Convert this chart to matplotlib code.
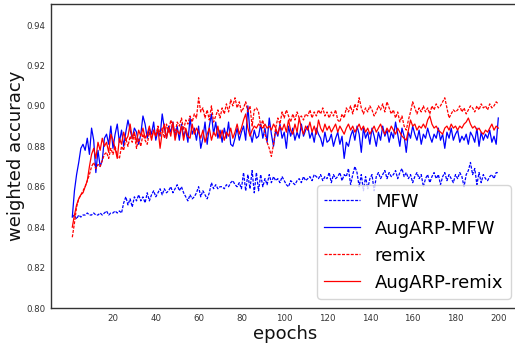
import numpy as np
import matplotlib
matplotlib.use("Agg")
import matplotlib.pyplot as plt

# ==========================================================
# DATA
# ==========================================================

epochs = np.arange(1, 201)

mfw = [
    0.845, 0.846, 0.844, 0.846, 0.845, 0.846, 0.846, 0.847, 0.846, 0.846,
    0.847, 0.846, 0.846, 0.847, 0.846, 0.847, 0.848, 0.846, 0.847, 0.847,
    0.848, 0.847, 0.848, 0.847, 0.852, 0.855, 0.851, 0.854, 0.850, 0.855,
    0.853, 0.856, 0.853, 0.855, 0.852, 0.857, 0.853, 0.856, 0.858, 0.855,
    0.857, 0.859, 0.856, 0.859, 0.857, 0.858, 0.860, 0.857, 0.859, 0.861,
    0.858, 0.860, 0.857, 0.855, 0.853, 0.856, 0.854, 0.855, 0.857, 0.860,
    0.855, 0.858, 0.856, 0.854, 0.857, 0.862, 0.859, 0.861, 0.859, 0.860,
    0.860, 0.859, 0.861, 0.860, 0.862, 0.863, 0.861, 0.860, 0.862, 0.859,
    0.867, 0.858, 0.866, 0.859, 0.868, 0.857, 0.867, 0.858, 0.866, 0.860,
    0.864, 0.861, 0.866, 0.862, 0.865, 0.863, 0.864, 0.862, 0.865, 0.863,
    0.861, 0.860, 0.863, 0.862, 0.861, 0.863, 0.864, 0.862, 0.865, 0.863,
    0.864, 0.865, 0.863, 0.866, 0.865, 0.864, 0.866, 0.863, 0.865, 0.864,
    0.867, 0.862, 0.866, 0.864, 0.865, 0.867, 0.863, 0.866, 0.865, 0.869,
    0.861, 0.866, 0.870, 0.867, 0.860, 0.866, 0.858, 0.865, 0.859, 0.864,
    0.866, 0.858, 0.865, 0.867, 0.864, 0.866, 0.868, 0.864, 0.867, 0.865,
    0.866, 0.868, 0.864, 0.867, 0.869, 0.865, 0.867, 0.864, 0.866, 0.862,
    0.865, 0.867, 0.864, 0.866, 0.860, 0.864, 0.866, 0.862, 0.865, 0.867,
    0.864, 0.866, 0.861, 0.865, 0.867, 0.863, 0.866, 0.864, 0.862, 0.866,
    0.864, 0.867, 0.865, 0.860, 0.866, 0.868, 0.872, 0.866, 0.869, 0.861,
    0.867, 0.862, 0.866, 0.864, 0.863, 0.865, 0.866, 0.864, 0.867, 0.867,
]

aug_mfw = [
    0.845, 0.858, 0.866, 0.872, 0.879, 0.881, 0.878, 0.884, 0.876, 0.889,
    0.883, 0.867, 0.878, 0.870, 0.873, 0.884, 0.886, 0.881, 0.890, 0.879,
    0.886, 0.891, 0.882, 0.888, 0.880, 0.887, 0.893, 0.888, 0.884, 0.889,
    0.887, 0.881, 0.886, 0.895, 0.891, 0.884, 0.889, 0.886, 0.892, 0.883,
    0.888, 0.885, 0.896, 0.889, 0.884, 0.890, 0.887, 0.892, 0.885, 0.890,
    0.883, 0.891, 0.885, 0.888, 0.882, 0.894, 0.886, 0.889, 0.883, 0.890,
    0.879, 0.884, 0.892, 0.881, 0.890, 0.896, 0.886, 0.892, 0.884, 0.888,
    0.882, 0.889, 0.884, 0.892, 0.881, 0.880, 0.884, 0.889, 0.883, 0.887,
    0.890, 0.883, 0.900, 0.887, 0.882, 0.888, 0.884, 0.885, 0.891, 0.884,
    0.889, 0.882, 0.894, 0.886, 0.880, 0.888, 0.885, 0.891, 0.884, 0.887,
    0.879, 0.890, 0.885, 0.889, 0.883, 0.887, 0.884, 0.891, 0.885, 0.888,
    0.890, 0.884, 0.887, 0.882, 0.889, 0.886, 0.884, 0.880, 0.887, 0.882,
    0.883, 0.886, 0.880, 0.884, 0.887, 0.881, 0.885, 0.874, 0.882, 0.880,
    0.885, 0.888, 0.883, 0.890, 0.886, 0.877, 0.889, 0.884, 0.887, 0.881,
    0.889, 0.885, 0.880, 0.887, 0.883, 0.890, 0.885, 0.888, 0.882, 0.887,
    0.884, 0.892, 0.886, 0.880, 0.889, 0.885, 0.877, 0.887, 0.884, 0.890,
    0.886, 0.883, 0.888, 0.881, 0.886, 0.884, 0.889, 0.885, 0.882, 0.886,
    0.884, 0.889, 0.883, 0.886, 0.879, 0.887, 0.884, 0.889, 0.883, 0.886,
    0.888, 0.882, 0.885, 0.883, 0.886, 0.881, 0.887, 0.885, 0.882, 0.889,
    0.880, 0.887, 0.883, 0.886, 0.884, 0.888, 0.882, 0.885, 0.881, 0.894,
]

remix = [
    0.835, 0.842, 0.850, 0.854, 0.856, 0.858, 0.860, 0.863, 0.866, 0.870,
    0.872, 0.869, 0.871, 0.870, 0.873, 0.876, 0.877, 0.874, 0.879, 0.876,
    0.880, 0.875, 0.874, 0.880, 0.878, 0.884, 0.880, 0.885, 0.882, 0.886,
    0.879, 0.884, 0.880, 0.886, 0.883, 0.881, 0.887, 0.884, 0.888, 0.885,
    0.890, 0.886, 0.889, 0.884, 0.891, 0.887, 0.893, 0.889, 0.886, 0.892,
    0.890, 0.894, 0.888, 0.893, 0.891, 0.895, 0.892, 0.896, 0.894, 0.904,
    0.897, 0.899, 0.894, 0.898, 0.893, 0.900, 0.892, 0.895, 0.898, 0.894,
    0.899, 0.896, 0.901, 0.897, 0.903, 0.900, 0.904, 0.899, 0.902, 0.897,
    0.899, 0.902, 0.897, 0.900, 0.890, 0.898, 0.899, 0.897, 0.890, 0.893,
    0.886, 0.882, 0.879, 0.875, 0.881, 0.889, 0.894, 0.891, 0.897, 0.894,
    0.898, 0.895, 0.892, 0.896, 0.893, 0.897, 0.894, 0.895, 0.893, 0.896,
    0.895, 0.898, 0.894, 0.897, 0.895, 0.898, 0.896, 0.899, 0.895, 0.897,
    0.894, 0.897, 0.895, 0.898, 0.893, 0.892, 0.896, 0.894, 0.899, 0.897,
    0.900, 0.896, 0.901, 0.898, 0.904, 0.899, 0.896, 0.899, 0.897, 0.900,
    0.898, 0.895, 0.897, 0.900, 0.898, 0.901, 0.897, 0.902, 0.899, 0.896,
    0.898, 0.894, 0.897, 0.892, 0.895, 0.890, 0.888, 0.893, 0.897, 0.902,
    0.899, 0.896, 0.899, 0.897, 0.900, 0.897, 0.899, 0.896, 0.900, 0.898,
    0.901, 0.899, 0.900, 0.902, 0.904, 0.899, 0.894, 0.896, 0.898, 0.897,
    0.898, 0.900, 0.897, 0.899, 0.896, 0.898, 0.900, 0.899, 0.897, 0.900,
    0.898, 0.901, 0.899, 0.900, 0.898, 0.901, 0.899, 0.900, 0.902, 0.901,
]

aug_remix = [
    0.840, 0.846, 0.851, 0.854, 0.856, 0.857, 0.860, 0.863, 0.870, 0.876,
    0.879, 0.874, 0.882, 0.878, 0.884, 0.880, 0.882, 0.877, 0.886, 0.883,
    0.879, 0.874, 0.884, 0.881, 0.887, 0.883, 0.885, 0.891, 0.884, 0.887,
    0.882, 0.888, 0.885, 0.889, 0.884, 0.886, 0.890, 0.883, 0.888, 0.885,
    0.889, 0.879, 0.887, 0.891, 0.884, 0.889, 0.885, 0.892, 0.883, 0.888,
    0.886, 0.890, 0.883, 0.889, 0.885, 0.884, 0.891, 0.886, 0.889, 0.887,
    0.884, 0.888, 0.882, 0.886, 0.889, 0.883, 0.887, 0.885, 0.890, 0.884,
    0.888, 0.883, 0.887, 0.885, 0.889, 0.884, 0.887, 0.891, 0.886, 0.889,
    0.893, 0.896, 0.889, 0.885, 0.888, 0.890, 0.889, 0.891, 0.890, 0.889,
    0.891, 0.889, 0.890, 0.888, 0.891, 0.889, 0.886, 0.890, 0.888, 0.891,
    0.887, 0.893, 0.888, 0.886, 0.891, 0.887, 0.894, 0.889, 0.886, 0.890,
    0.888, 0.892, 0.887, 0.890, 0.886, 0.893, 0.889, 0.887, 0.891, 0.888,
    0.890, 0.887, 0.889, 0.891, 0.887, 0.890, 0.888, 0.886, 0.889, 0.891,
    0.888, 0.890, 0.887, 0.889, 0.891, 0.888, 0.890, 0.887, 0.889, 0.886,
    0.888, 0.890, 0.887, 0.889, 0.891, 0.888, 0.886, 0.889, 0.887, 0.890,
    0.888, 0.886, 0.889, 0.887, 0.885, 0.884, 0.883, 0.888, 0.893, 0.890,
    0.891, 0.888, 0.890, 0.889, 0.891, 0.889, 0.893, 0.895, 0.891, 0.889,
    0.890, 0.888, 0.887, 0.886, 0.889, 0.890, 0.888, 0.891, 0.889, 0.890,
    0.888, 0.890, 0.889, 0.891, 0.892, 0.894, 0.891, 0.889, 0.890, 0.888,
    0.889, 0.887, 0.886, 0.888, 0.887, 0.889, 0.891, 0.888, 0.890, 0.889,
]

x_ticks = list(range(20, 201, 20))
y_ticks = [0.80, 0.82, 0.84, 0.86, 0.88, 0.90, 0.92, 0.94]

SAVE_NAME = "out.png"

# ==========================================================
# FIGURE
# ==========================================================

fig = plt.figure(figsize=(5.15, 3.43), dpi=100)
# right edge of the axes runs just past the figure, as in the cropped original
ax = fig.add_axes([51 / 515, 35 / 343, 468.6 / 515, 304 / 343])

DASH = (2.4, 1.1)

ax.plot(epochs, mfw, color="blue", linestyle="--", dashes=DASH,
        linewidth=0.9, label="MFW")
ax.plot(epochs, aug_mfw, color="blue", linestyle="-",
        linewidth=0.9, label="AugARP-MFW")
ax.plot(epochs, remix, color="red", linestyle="--", dashes=DASH,
        linewidth=0.9, label="remix")
ax.plot(epochs, aug_remix, color="red", linestyle="-",
        linewidth=0.9, label="AugARP-remix")

# ==========================================================
# AXES SETTINGS
# ==========================================================

ax.set_xlim(-8.95, 209.95)
ax.set_ylim(0.80, 0.9504)
ax.set_xticks(x_ticks)
ax.set_yticks(y_ticks)
ax.tick_params(length=0, labelsize=6.2, colors="#333333", pad=4)

for side in ["left", "bottom", "top"]:
    ax.spines[side].set_color("#333333")
    ax.spines[side].set_linewidth(1.0)
ax.spines["right"].set_visible(False)

ax.set_xlabel("epochs", fontsize=13, color="#111111", labelpad=2)
ax.set_ylabel("weighted accuracy", fontsize=13, color="#111111", labelpad=1)

ax.legend(
    loc="lower right",
    bbox_to_anchor=(510.5 / 515, 44 / 343),
    bbox_transform=fig.transFigure,
    borderaxespad=0,
    fontsize=13,
    frameon=True,
    fancybox=True,
    edgecolor="#cccccc",
    framealpha=0.8,
)

fig.savefig(SAVE_NAME, dpi=100)
